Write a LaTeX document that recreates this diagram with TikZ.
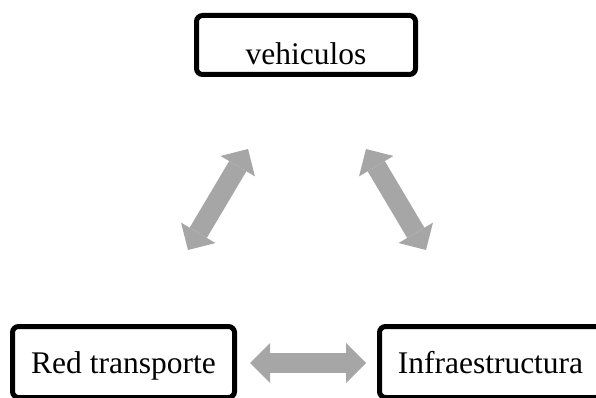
\documentclass[tikz,border=0pt]{standalone}
\usepackage{fontspec}
\setmainfont{Liberation Serif}
\usetikzlibrary{arrows.meta}
\definecolor{linkgray}{RGB}{166,166,166}
\begin{document}
\begin{tikzpicture}[x=1pt,y=-1pt,
  box/.style={draw=black, line width=5pt, rounded corners=6pt, fill=white,
    inner sep=0pt, font=\fontsize{31.5}{36}\selectfont, text depth=0pt},
  link/.style={draw=linkgray, line width=20pt,
    {Triangle[width=40pt,length=20pt,line width=0pt]}-{Triangle[width=40pt,length=20pt,line width=0pt]}}
]
\useasboundingbox (0,0) rectangle (596,398);
\clip (0,0) rectangle (596,398);

% the three elements of the system
\node[box, minimum width=219pt, minimum height=59pt, text height=40pt] (veh) at (306,45) {vehiculos};
\node[box, minimum width=222pt, minimum height=71pt, text height=22pt] (red) at (123.5,362) {Red transporte};
\node[box, minimum width=222pt, minimum height=71pt, text height=22pt] (infra) at (490.5,362) {Infraestructura};

% ends of the two-way links
\coordinate (redTop) at (188,250);
\coordinate (vehLeft) at (248,149);
\coordinate (vehRight) at (366,149);
\coordinate (infraTop) at (426,250);
\coordinate (redRight) at (250,363);
\coordinate (infraLeft) at (366,363);

\draw[link] (redTop) -- (vehLeft);
\draw[link] (vehRight) -- (infraTop);
\draw[link] (redRight) -- (infraLeft);
\end{tikzpicture}
\end{document}
